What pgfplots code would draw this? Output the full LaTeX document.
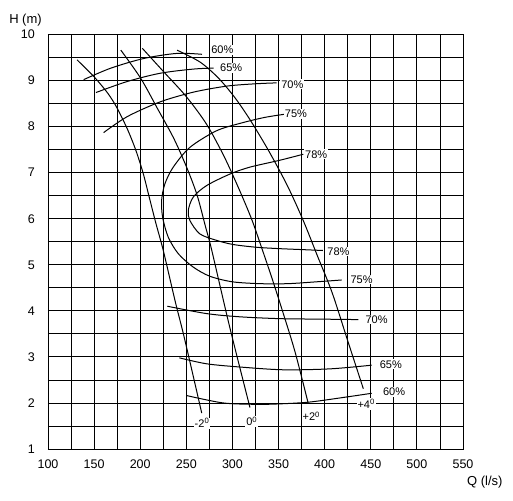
\documentclass[border=0pt]{standalone}
\usepackage{fontspec}
\setmainfont{Liberation Sans}
\usepackage{pgfplots}
\pgfplotsset{compat=1.18}
\begin{document}
\begin{tikzpicture}
\useasboundingbox (-48pt,-51pt) rectangle (465pt,449pt);
\begin{axis}[
  at={(0pt,0pt)}, anchor=south west,
  scale only axis, width=415pt, height=414.5pt,
  xmin=100, xmax=550, ymin=1, ymax=10,
  xtick={100,150,...,550}, ytick={1,2,...,10},
  minor xtick={125,175,...,525}, minor ytick={1.5,2.5,...,9.5},
  grid=both,
  major grid style={black, line width=0.8pt},
  minor grid style={black, line width=0.8pt},
  axis line style={black, line width=0.8pt},
  major tick length=0pt, minor tick length=0pt,
  /pgf/number format/assume math mode=true,
  ticklabel style={font=\fontsize{12.5}{14}\selectfont, inner sep=0pt},
  xticklabel style={anchor=north, yshift=-11pt},
  yticklabel style={anchor=east, xshift=-13pt},
  curve/.style={black, line width=1.0pt, smooth, tension=0.5, no markers},
  clip=false,
]
% pump curves (blade angles -2, 0, +2, +4 deg)
\addplot[curve] coordinates {(131.5,9.45) (150,9.08) (165,8.72) (175,8.4) (186,7.95) (195,7.5) (203,7.0) (210,6.45) (217,5.9) (225,5.31) (238,4.2) (248,3.4) (266.7,1.78)};
\addplot[curve] coordinates {(179,9.66) (200.5,9.05) (218.5,8.40) (236.5,7.74) (250.9,7.09) (261.7,6.51) (270.5,5.85) (277.5,5.32) (297,3.65) (319,1.9)};
\addplot[curve] coordinates {(202.3,9.70) (225,9.2) (250,8.65) (272,8.05) (291,7.35) (307,6.65) (321,5.98) (332,5.35) (343,4.7) (355,3.95) (368,3.1) (382.3,1.98)};
\addplot[curve] coordinates {(240,9.66) (265,9.40) (285,9.05) (303,8.62) (320,8.12) (340,7.45) (360,6.7) (377,5.95) (392,5.2) (408,4.4) (425,3.35) (441.9,2.31)};
% efficiency curves, upper branches
\addplot[curve] coordinates {(138.7,9.02) (168.2,9.27) (204,9.48) (240,9.59) (267,9.57)};
\addplot[curve] coordinates {(152,8.74) (186,8.98) (222,9.16) (258,9.25) (279.7,9.27)};
\addplot[curve] coordinates {(160.3,7.87) (186.2,8.22) (222,8.54) (258,8.75) (294,8.88) (325,8.93) (348,8.95)};
% 75% loop
\addplot[curve] coordinates {(357,8.27) (335,8.2) (310,8.08) (282.8,7.91) (253.9,7.55) (235.8,7.12) (226.8,6.76) (223.2,6.40) (224.3,6.03) (230.4,5.60) (241.3,5.24) (257.5,4.95) (275.6,4.75) (300,4.63) (330,4.59) (360,4.59) (391,4.63) (418.5,4.67)};
% 78% loop
\addplot[curve] coordinates {(376.8,7.40) (351.4,7.27) (318.9,7.12) (297.3,6.97) (272,6.72) (257.5,6.47) (252.1,6.18) (253.9,5.96) (264.7,5.67) (282.8,5.53) (300.9,5.44) (326.2,5.38) (351.4,5.35) (375,5.33) (398,5.31)};
% efficiency curves, lower branches
\addplot[curve] coordinates {(229.4,4.10) (272,3.94) (308.2,3.87) (351.6,3.83) (395,3.82) (436.5,3.81)};
\addplot[curve] coordinates {(242.4,2.98) (272,2.85) (308.2,2.78) (355,2.72) (405.8,2.74) (451,2.82)};
\addplot[curve] coordinates {(250.4,2.16) (290,2.0) (326.3,1.97) (351.6,1.98) (384,2.02) (424,2.13) (451,2.21)};
% labels
\begin{scope}[every node/.style={fill=white, inner sep=1pt, font=\fontsize{11}{13}\selectfont}]
\node at (axis cs:289,9.66) {60\%};
\node at (axis cs:298.6,9.27) {65\%};
\node at (axis cs:365,8.92) {70\%};
\node at (axis cs:368.8,8.27) {75\%};
\node at (axis cs:390.8,7.40) {78\%};
\node at (axis cs:415,5.29) {78\%};
\node at (axis cs:440,4.68) {75\%};
\node at (axis cs:456.3,3.81) {70\%};
\node at (axis cs:471.8,2.84) {65\%};
\node at (axis cs:475.3,2.235) {60\%};
\node at (axis cs:445,1.98) {+4\textsuperscript{0}};
\node at (axis cs:385.5,1.71) {+2\textsuperscript{0}};
\node at (axis cs:321,1.60) {0\textsuperscript{0}};
\node at (axis cs:267,1.56) {-2\textsuperscript{0}};
\end{scope}
\end{axis}
\node[font=\fontsize{13}{15}\selectfont, inner sep=0pt] at (-22.5pt,428.5pt) {H (m)};
\node[font=\fontsize{13}{15}\selectfont, inner sep=0pt] at (436.8pt,-33pt) {Q (l/s)};
\end{tikzpicture}
\end{document}
